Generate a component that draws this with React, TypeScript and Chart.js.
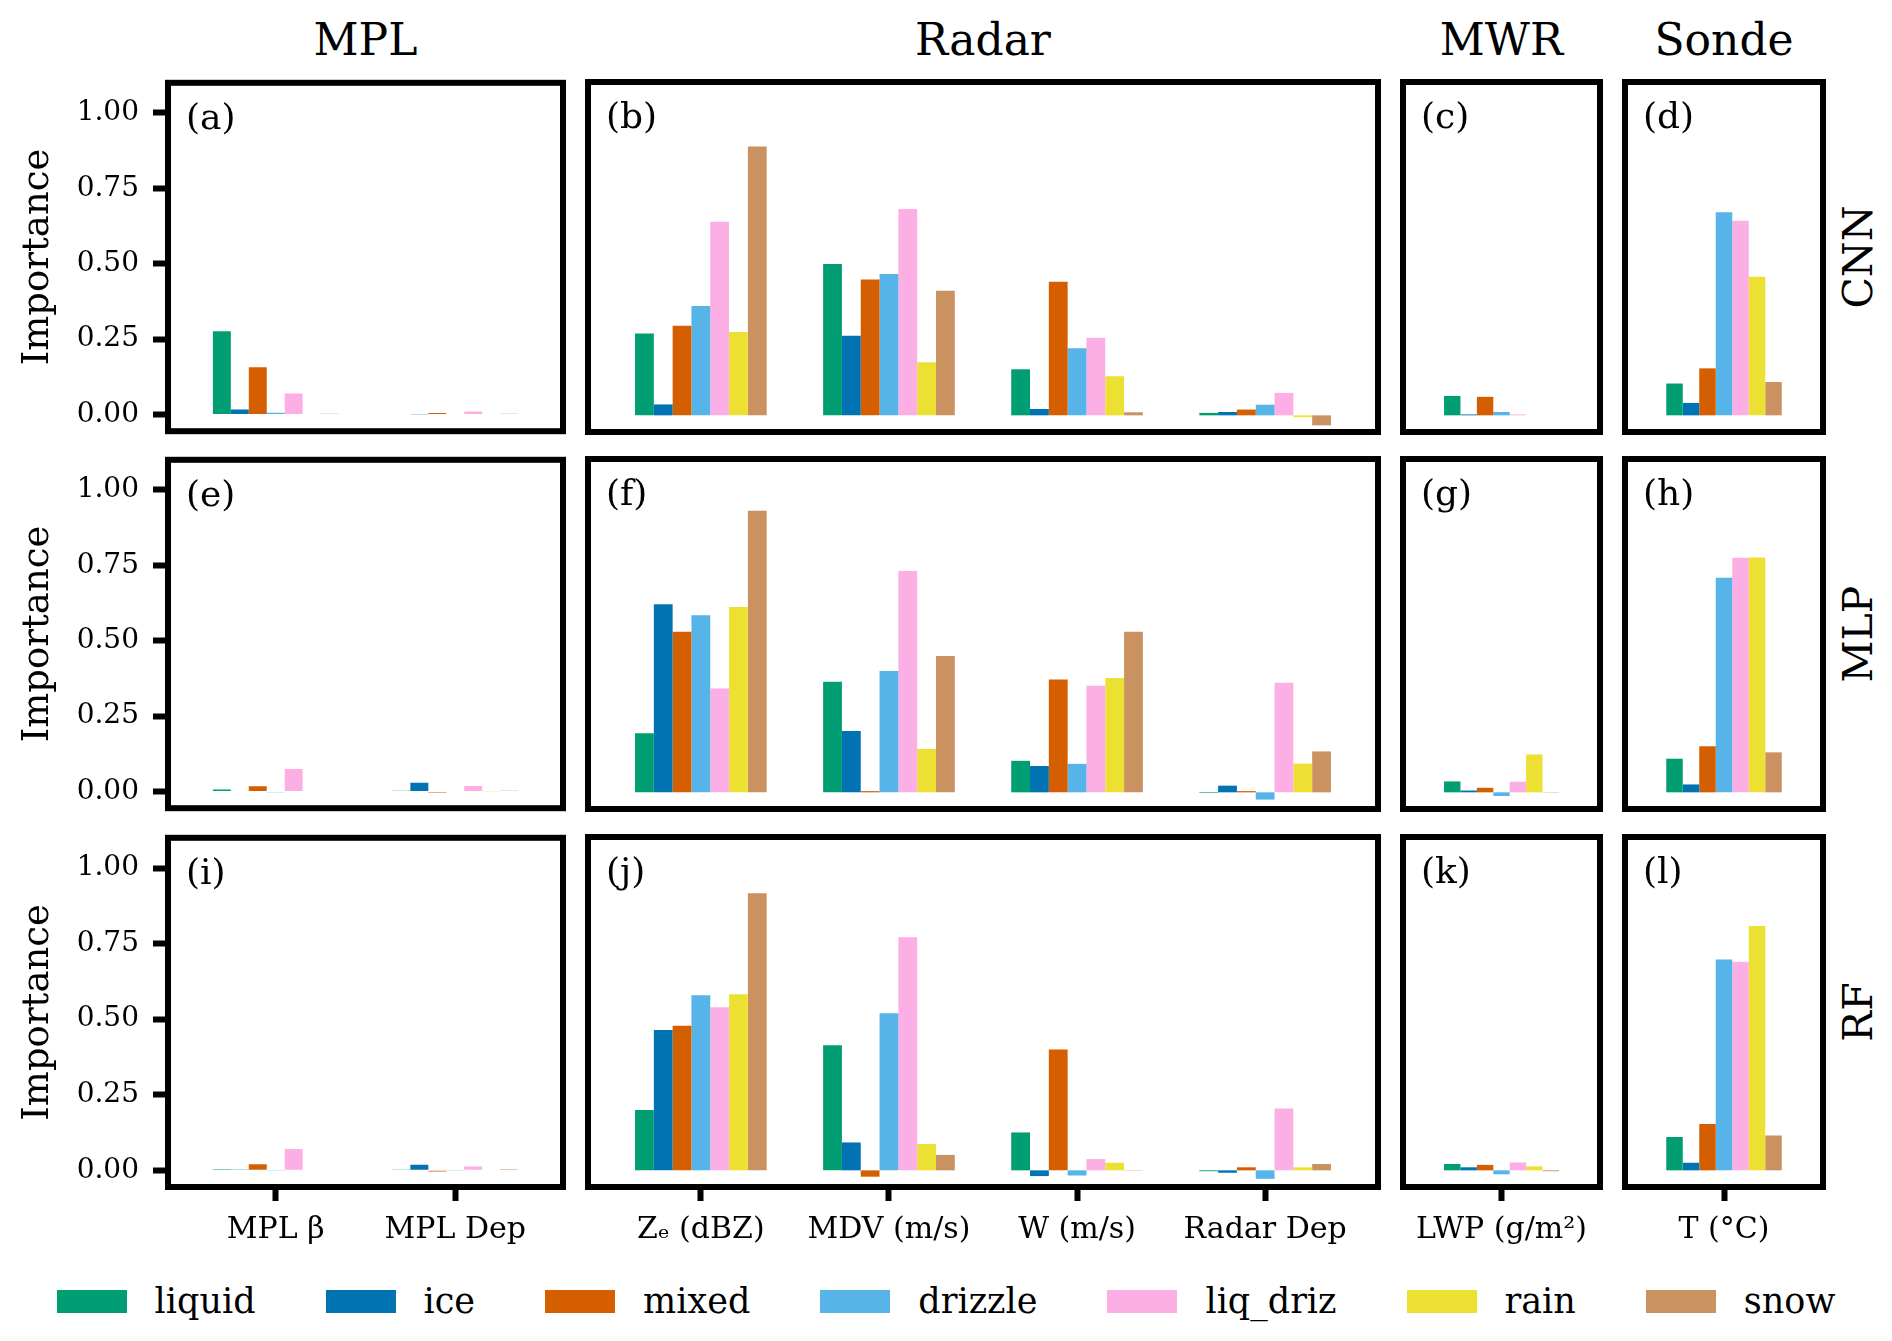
import React, { useEffect, useRef } from "react";
import { Chart, registerables } from "chart.js";

Chart.register(...registerables);

const FONT = "'DejaVu Serif', 'Liberation Serif', serif";
Chart.defaults.font.family = FONT;
Chart.defaults.color = "#000";

// ---- data ----
const classes = ["liquid", "ice", "mixed", "drizzle", "liq_driz", "rain", "snow"];
const classColors = ["#029E73", "#0173B2", "#D55E00", "#56B4E9", "#FBAFE4", "#ECE133", "#CA9161"];

const instruments = ["MPL", "Radar", "MWR", "Sonde"];
const models = ["CNN", "MLP", "RF"];
const panelLetters = ["(a)", "(b)", "(c)", "(d)", "(e)", "(f)", "(g)", "(h)", "(i)", "(j)", "(k)", "(l)"];

const mplFeatures = ["MPL β", "MPL Dep"];
const radarFeatures = ["Zₑ (dBZ)", "MDV (m/s)", "W (m/s)", "Radar Dep"];
const mwrFeatures = ["LWP (g/m²)"];
const sondeFeatures = ["T (°C)"];
const featureSets = [mplFeatures, radarFeatures, mwrFeatures, sondeFeatures];

const yTickValues = [0, 0.25, 0.5, 0.75, 1.0];

// rows = classes (liquid..snow), columns = features
const cnnMPL = [
  [0.276, 0.002],
  [0.017, 0.001],
  [0.157, 0.005],
  [0.006, 0.002],
  [0.07, 0.01],
  [0.002, 0.002],
  [0.003, 0.003],
];
const cnnRadar = [
  [0.27, 0.499, 0.152, 0.008],
  [0.036, 0.263, 0.021, 0.011],
  [0.296, 0.448, 0.441, 0.019],
  [0.361, 0.466, 0.221, 0.035],
  [0.639, 0.681, 0.256, 0.074],
  [0.275, 0.175, 0.129, -0.006],
  [0.887, 0.411, 0.01, -0.033],
];
const cnnMWR = [[0.064], [0.003], [0.061], [0.011], [0.003], [0.0], [0.0]];
const cnnSonde = [[0.105], [0.041], [0.155], [0.67], [0.642], [0.457], [0.11]];

const mlpMPL = [
  [0.007, 0.003],
  [0.002, 0.029],
  [0.018, -0.003],
  [-0.002, 0.0],
  [0.075, 0.019],
  [0.0, 0.001],
  [0.0, 0.003],
];
const mlpRadar = [
  [0.195, 0.365, 0.104, -0.002],
  [0.621, 0.202, 0.087, 0.022],
  [0.53, 0.004, 0.372, 0.004],
  [0.584, 0.4, 0.094, -0.024],
  [0.343, 0.73, 0.352, 0.362],
  [0.612, 0.143, 0.377, 0.095],
  [0.929, 0.45, 0.53, 0.135],
];
const mlpMWR = [[0.036], [0.006], [0.015], [-0.012], [0.035], [0.125], [0.001]];
const mlpSonde = [[0.111], [0.026], [0.152], [0.708], [0.774], [0.775], [0.132]];

const rfMPL = [
  [0.004, 0.001],
  [0.003, 0.019],
  [0.02, -0.004],
  [-0.002, -0.002],
  [0.071, 0.013],
  [0.0, 0.002],
  [0.0, 0.004],
];
const rfRadar = [
  [0.199, 0.413, 0.125, -0.003],
  [0.463, 0.092, -0.019, -0.008],
  [0.477, -0.021, 0.399, 0.01],
  [0.578, 0.518, -0.017, -0.028],
  [0.538, 0.769, 0.037, 0.204],
  [0.581, 0.087, 0.025, 0.01],
  [0.914, 0.051, 0.001, 0.021],
];
const rfMWR = [[0.021], [0.01], [0.018], [-0.013], [0.026], [0.013], [-0.003]];
const rfSonde = [[0.11], [0.025], [0.153], [0.696], [0.688], [0.806], [0.115]];

const panelValues = [
  [cnnMPL, cnnRadar, cnnMWR, cnnSonde],
  [mlpMPL, mlpRadar, mlpMWR, mlpSonde],
  [rfMPL, rfRadar, rfMWR, rfSonde],
];

// ---- layout ----
const COL_X = [168, 588, 1403, 1625];
const COL_W = [395, 790, 197, 198];
const ROW_Y = [82, 459, 837];
const ROW_H = 350;
const PAD = 30;
const XAXIS_H = 80;
const Y_MIN = -0.055;
const Y_MAX = 1.1;

const framePlugin = (letter: string) => ({
  id: "frame",
  afterDatasetsDraw(chart: any) {
    const { ctx, chartArea } = chart;
    const { left, top, width, height } = chartArea;
    ctx.save();
    ctx.strokeStyle = "#000";
    ctx.lineWidth = 6;
    ctx.strokeRect(left, top, width, height);
    ctx.fillStyle = "#000";
    ctx.font = `36px ${FONT}`;
    ctx.textBaseline = "alphabetic";
    ctx.fillText(letter, left + 18, top + 46);
    ctx.restore();
  },
});

function Panel({ row, col }: { row: number; col: number }) {
  const ref = useRef<HTMLCanvasElement>(null);
  const bottomRow = row === models.length - 1;
  const left = col === 0 ? 0 : COL_X[col] - PAD;
  const top = ROW_Y[row] - PAD;
  const width = COL_X[col] + COL_W[col] + PAD - left;
  const height = ROW_H + PAD + (bottomRow ? XAXIS_H : PAD);

  useEffect(() => {
    const features = featureSets[col];
    const values = panelValues[row][col];
    const n = features.length;
    const chart = new Chart(ref.current as HTMLCanvasElement, {
      type: "bar",
      data: {
        datasets: classes.map((name, k) => ({
          label: name,
          data: values[k].map((v, i) => ({ x: i, y: v })),
          backgroundColor: classColors[k],
          borderWidth: 0,
          categoryPercentage: n === 1 ? 0.7 / 1.2 : 0.7,
          barPercentage: 1,
        })),
      },
      options: {
        responsive: false,
        animation: false,
        devicePixelRatio: 1,
        events: [],
        layout: {
          padding: { left: col === 0 ? 0 : PAD, right: PAD, top: PAD, bottom: bottomRow ? 0 : PAD },
        },
        plugins: { legend: { display: false }, tooltip: { enabled: false } },
        scales: {
          x: {
            type: "linear",
            min: -0.6,
            max: n - 0.4,
            bounds: "data",
            offset: false,
            display: bottomRow,
            afterBuildTicks: (s: any) => {
              s.ticks = features.map((_, i) => ({ value: i }));
            },
            afterFit: (s: any) => {
              if (bottomRow) s.height = XAXIS_H;
            },
            ticks: {
              callback: (v: any) => features[Math.round(Number(v))],
              autoSkip: false,
              maxRotation: 0,
              minRotation: 0,
              padding: 11,
              font: { size: 30 },
            },
            grid: { drawOnChartArea: false, drawTicks: true, tickLength: 14, tickWidth: 6, tickColor: "#000", offset: false },
            border: { display: false },
          },
          y: {
            min: Y_MIN,
            max: Y_MAX,
            bounds: "data",
            display: col === 0,
            afterBuildTicks: (s: any) => {
              s.ticks = yTickValues.map((v) => ({ value: v }));
            },
            afterFit: (s: any) => {
              if (col === 0) s.width = COL_X[0];
            },
            ticks: { callback: (v: any) => Number(v).toFixed(2), padding: 14, font: { size: 28 } },
            grid: { drawOnChartArea: false, drawTicks: true, tickLength: 15, tickWidth: 6, tickColor: "#000" },
            border: { display: false },
            title: { display: true, text: "Importance", font: { size: 37 }, padding: { top: 16, bottom: 0 } },
          },
        },
      },
      plugins: [framePlugin(panelLetters[row * instruments.length + col])],
    } as any);
    return () => chart.destroy();
  }, [row, col]);

  return (
    <canvas
      ref={ref}
      width={width}
      height={height}
      style={{ position: "absolute", left, top, width, height }}
    />
  );
}

export default function App() {
  return (
    <div
      style={{
        position: "absolute",
        left: 0,
        top: 0,
        width: 1892,
        height: 1341,
        background: "#fff",
        fontFamily: FONT,
        overflow: "hidden",
      }}
    >
      {instruments.map((name, c) => (
        <div
          key={name}
          style={{
            position: "absolute",
            left: COL_X[c],
            width: COL_W[c],
            top: 10,
            height: 60,
            lineHeight: "60px",
            textAlign: "center",
            fontSize: 44,
          }}
        >
          {name}
        </div>
      ))}

      {models.map((name, r) => (
        <div
          key={name}
          style={{
            position: "absolute",
            left: 1858 - 100,
            top: ROW_Y[r] + ROW_H / 2 - 30,
            width: 200,
            height: 60,
            lineHeight: "60px",
            textAlign: "center",
            fontSize: 41,
            transform: "rotate(-90deg)",
          }}
        >
          {name}
        </div>
      ))}

      {models.map((m, r) =>
        instruments.map((ins, c) => <Panel key={m + ins} row={r} col={c} />)
      )}

      <div
        style={{
          position: "absolute",
          left: 0,
          width: 1892,
          top: 1301 - 25,
          height: 50,
          display: "flex",
          justifyContent: "center",
          alignItems: "center",
          gap: 70,
        }}
      >
        {classes.map((name, k) => (
          <div key={name} style={{ display: "flex", alignItems: "center" }}>
            <span style={{ display: "inline-block", width: 70, height: 23, background: classColors[k], marginRight: 28 }} />
            <span style={{ fontSize: 35, lineHeight: "50px" }}>{name}</span>
          </div>
        ))}
      </div>
    </div>
  );
}
